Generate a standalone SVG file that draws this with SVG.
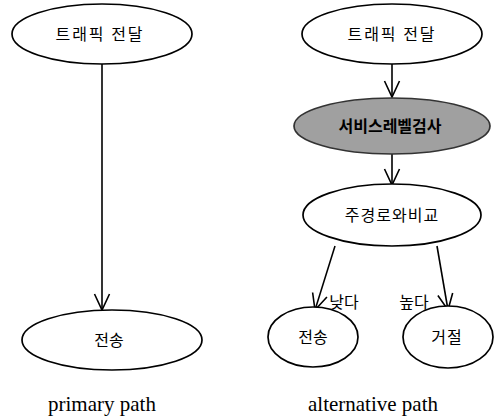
<svg xmlns="http://www.w3.org/2000/svg" width="496" height="418" viewBox="0 0 496 418">
<style>
.n{fill:#fff;stroke:#000;stroke-width:1.7}
.g{fill:#a0a0a0;stroke:#333;stroke-width:1.7}
.k{font-family:"Noto Sans CJK KR","Noto Sans",sans-serif;font-size:16px;fill:#000;text-anchor:middle}
.c{fill:none;stroke:#000;stroke-width:1.6}
.cap{font-family:"Liberation Serif",serif;font-size:21px;fill:#000;text-anchor:middle}
</style>
<defs>
<marker id="ah" markerUnits="userSpaceOnUse" markerWidth="20" markerHeight="20" refX="0" refY="0" viewBox="-18 -10 20 20" orient="auto">
<path d="M -16 -7.5 L 0 0 L -16 7.5" fill="none" stroke="#000" stroke-width="1.6"/>
</marker>
</defs>
<g id="connectors">
<line class="c" x1="102" y1="64" x2="102" y2="310" marker-end="url(#ah)"/>
<line class="c" x1="392" y1="64" x2="392" y2="97" marker-end="url(#ah)"/>
<line class="c" x1="392" y1="154" x2="392" y2="185" marker-end="url(#ah)"/>
<line class="c" x1="335" y1="246" x2="315" y2="310" marker-end="url(#ah)"/>
<line class="c" x1="437" y1="246" x2="448" y2="310" marker-end="url(#ah)"/>
<text class="k" x="344" y="308">낮다</text>
<text class="k" x="414" y="308">높다</text>
</g>
<g id="l-traffic">
<ellipse class="n" cx="102" cy="34" rx="90" ry="30"/>
<text class="k" x="100" y="40" font-size="17" letter-spacing="2">트래픽 전달</text>
</g>
<g id="l-send">
<ellipse class="n" cx="112" cy="340" rx="90" ry="30"/>
<text class="k" x="109" y="346">전송</text>
</g>
<g id="r-traffic">
<ellipse class="n" cx="392" cy="34" rx="90" ry="30"/>
<text class="k" x="392" y="40" font-size="17" letter-spacing="2">트래픽 전달</text>
</g>
<g id="r-check">
<ellipse class="g" cx="392" cy="126" rx="98" ry="28"/>
<text class="k" x="390" y="132" font-weight="bold">서비스레벨검사</text>
</g>
<g id="r-compare">
<ellipse class="n" cx="392" cy="215" rx="89" ry="31"/>
<text class="k" x="392" y="221" letter-spacing="1">주경로와비교</text>
</g>
<g id="r-send">
<ellipse class="n" cx="313" cy="337" rx="45" ry="30"/>
<text class="k" x="313" y="343">전송</text>
</g>
<g id="r-reject">
<ellipse class="n" cx="448" cy="337" rx="45" ry="31"/>
<text class="k" x="447" y="343" letter-spacing="1">거절</text>
</g>
<text class="cap" x="102" y="411">primary path</text>
<text class="cap" x="373" y="411">alternative path</text>
</svg>
